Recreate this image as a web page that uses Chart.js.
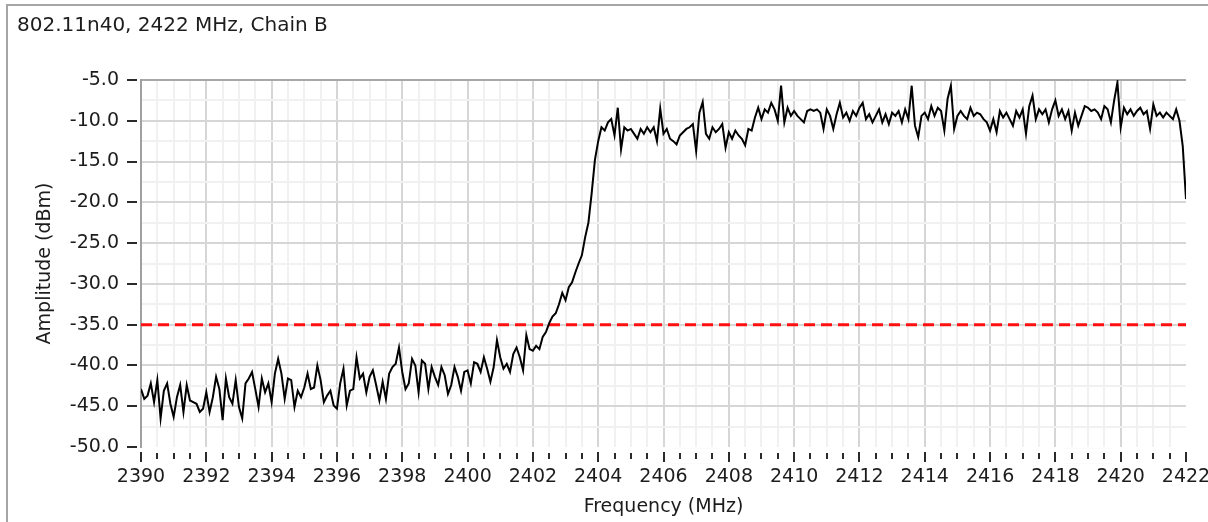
<!DOCTYPE html>
<html>
<head>
<meta charset="utf-8">
<title>802.11n40 spectrum</title>
<script src="https://cdn.jsdelivr.net/npm/chart.js@4.4.1/dist/chart.umd.min.js"></script>
<style>
    html, body { margin: 0; padding: 0; background: #fff; overflow: hidden; }
    #wrap { position: relative; width: 1208px; height: 522px; }
    #wrap canvas { position: absolute; left: 0; top: 0; }
    #frame { position: absolute; left: 6px; top: 4px; width: 1230px; height: 560px; border: 2px solid #a5a5a5; box-sizing: border-box; pointer-events: none; }
</style>
</head>
<body>
<div id="wrap">
    <canvas id="spectrumChart" width="1208" height="522"></canvas>
    <div id="frame"></div>
</div>
<script>
// Chart text
const chartTitle = '802.11n40, 2422 MHz, Chain B';
const xTitle = 'Frequency (MHz)';
const yTitle = 'Amplitude (dBm)';

// Tick labels
const freqTicks = [2390, 2392, 2394, 2396, 2398, 2400, 2402, 2404, 2406, 2408, 2410, 2412, 2414, 2416, 2418, 2420, 2422];
const ampTicks = [-5, -10, -15, -20, -25, -30, -35, -40, -45, -50];

// Sweep starts at 2390 MHz, one sample every 0.1 MHz
const startFreq = 2390;
const stepMHz = 0.1;

// Amplitude (dBm), in pieces
// 2390.0 - 2395.7
const floorLow = [
    -42.9, -44.1, -43.7, -42.2, -44.5, -41.8, -46.5, -43.1, -42.2, -44.7,
    -46.3, -43.9, -42.4, -45.7, -42.4, -44.3, -44.5, -44.7, -45.7, -45.3,
    -43.3, -45.7, -43.9, -41.4, -42.9, -46.7, -41.6, -43.9, -44.7, -41.8,
    -45.1, -46.5, -42.2, -41.6, -40.8, -42.9, -45.1, -41.6, -43.3, -42.2,
    -44.5, -41.0, -39.2, -41.0, -44.1, -41.6, -41.8, -45.1, -43.1, -43.9,
    -42.7, -41.0, -42.9, -42.7, -40.0, -41.8, -44.5, -43.7
];
// 2395.8 - 2402.5
const floorHigh = [
    -43.1, -44.9,
    -45.3, -42.2, -40.4, -44.9, -43.1, -42.9, -39.0, -41.6, -41.0, -43.3,
    -41.4, -40.6, -42.4, -44.3, -42.0, -44.1, -41.0, -40.2, -39.8, -37.8,
    -40.8, -42.9, -42.2, -39.2, -40.0, -43.3, -39.4, -39.8, -42.9, -40.2,
    -41.4, -42.4, -40.2, -41.2, -43.5, -42.4, -40.2, -41.4, -43.1, -40.8,
    -40.6, -42.2, -39.6, -39.8, -40.8, -39.0, -40.4, -42.0, -40.2, -36.9,
    -39.0, -40.4, -39.8, -40.8, -38.6, -37.8, -39.0, -40.6, -36.3, -38.0,
    -38.2, -37.6, -38.0, -36.5, -35.9, -34.8
];
// 2402.6 - 2404.0 (channel edge)
const bandEdge = [
    -34.0, -33.6, -32.5, -31.1, -32.0, -30.4, -29.8, -28.6, -27.5, -26.5,
    -24.3, -22.5, -18.9, -14.8, -12.5
];
// 2404.1 - 2410.0
const bandLow = [
    -10.8, -11.2, -10.2, -9.8, -11.8, -8.4, -13.5, -10.8, -11.2,
    -11.0, -11.6, -12.2, -11.0, -11.6, -10.8, -11.4, -10.8, -12.5, -8.5,
    -11.6, -11.0, -12.2, -12.5, -12.9, -11.8, -11.4, -11.0, -10.8, -10.4,
    -13.7, -9.0, -7.7, -11.6, -12.2, -10.8, -11.4, -11.0, -10.4, -13.3,
    -11.4, -12.2, -11.2, -11.8, -12.2, -13.0, -11.0, -11.2, -9.6, -8.4,
    -9.8, -8.6, -9.0, -7.8, -8.6, -10.0, -5.7, -10.2, -8.4, -9.4,
    -8.8
];
// 2410.1 - 2416.2
const bandMid = [
    -9.4, -9.8, -10.2, -8.8, -8.6, -8.8, -8.6, -9.0, -11.0,
    -8.6, -9.4, -11.0, -9.2, -7.8, -9.6, -9.0, -10.0, -8.8, -9.4,
    -8.4, -7.8, -9.8, -9.2, -10.2, -9.4, -8.6, -10.2, -9.2, -10.4,
    -9.0, -9.4, -8.8, -10.2, -8.6, -9.8, -5.7, -10.6, -12.0, -9.4,
    -9.0, -9.8, -8.2, -9.4, -8.4, -8.8, -11.2, -7.3, -5.7, -11.0,
    -9.4, -8.8, -9.4, -9.8, -8.4, -9.4, -9.0, -9.2, -9.8, -10.2,
    -11.2, -9.8, -11.4
];
// 2416.3 - 2422.0
const bandHigh = [
    -8.8, -9.6, -9.0, -9.8, -10.6, -8.8, -9.6,
    -8.6, -11.6, -8.2, -6.9, -9.8, -8.6, -9.2, -8.6, -10.2, -8.6,
    -7.5, -9.4, -8.6, -9.8, -8.8, -11.2, -9.0, -10.6, -9.4, -8.2,
    -8.4, -8.8, -8.6, -9.0, -9.8, -8.2, -8.6, -10.2, -7.5, -5.3,
    -10.8, -8.4, -9.2, -8.6, -9.4, -8.8, -8.4, -9.2, -8.8, -11.0,
    -8.0, -9.4, -9.0, -9.6, -9.0, -9.4, -9.8, -8.6, -10.0, -13.1,
    -19.6
];

// Limit line
const limitFreqs = [2390, 2422];
const limitLevels = [-35, -35];

const amplitude = [].concat(floorLow, floorHigh, bandEdge, bandLow, bandMid, bandHigh);
const spectrum = amplitude.map((a, i) => ({ x: +(startFreq + i * stepMHz).toFixed(1), y: a }));
const limitLine = limitFreqs.map((f, i) => ({ x: f, y: limitLevels[i] }));

const isMajorFreq = v => freqTicks.some(t => Math.abs(t - v) < 1e-6);
const isMajorAmp = v => ampTicks.some(t => Math.abs(t - v) < 1e-6);

const textColor = '#1c1c1c';
Chart.defaults.font.family = '"DejaVu Sans", sans-serif';
Chart.defaults.font.size = 19;
Chart.defaults.color = textColor;

// small dark tick marks standing off the axes
const tickMarks = {
    id: 'tickMarks',
    afterDraw(chart) {
        const ctx = chart.ctx;
        const area = chart.chartArea;
        const xs = chart.scales.x;
        const ys = chart.scales.y;
        ctx.save();
        ctx.strokeStyle = '#2a2a2a';
        xs.ticks.forEach(t => {
            const px = Math.round(xs.getPixelForValue(t.value));
            const major = isMajorFreq(t.value);
            ctx.lineWidth = 2;
            ctx.beginPath();
            ctx.moveTo(px, area.bottom + (major ? 5 : 6));
            ctx.lineTo(px, area.bottom + (major ? 15 : 12));
            ctx.stroke();
        });
        ys.ticks.forEach(t => {
            if (!isMajorAmp(t.value)) return;
            const py = Math.round(ys.getPixelForValue(t.value));
            ctx.lineWidth = 2;
            ctx.beginPath();
            ctx.moveTo(area.left - 14, py);
            ctx.lineTo(area.left - 4, py);
            ctx.stroke();
        });
        ctx.restore();
    }
};

const ctx = document.getElementById('spectrumChart').getContext('2d');

new Chart(ctx, {
    type: 'line',
    data: {
        datasets: [
            {
                label: 'Spectrum',
                data: spectrum,
                borderColor: '#000000',
                borderWidth: 2,
                pointRadius: 0,
                tension: 0,
                fill: false
            },
            {
                label: 'Limit',
                data: limitLine,
                borderColor: '#ff1010',
                borderWidth: 3,
                borderDash: [11, 6],
                borderCapStyle: 'butt',
                pointRadius: 0,
                fill: false
            }
        ]
    },
    options: {
        responsive: false,
        animation: false,
        devicePixelRatio: 1,
        layout: { padding: { left: 17, right: 22, top: 0, bottom: 0 } },
        plugins: {
            legend: { display: false },
            tooltip: { enabled: false },
            title: {
                display: true,
                text: chartTitle,
                align: 'start',
                color: textColor,
                font: { size: 20, weight: 'normal' },
                padding: { top: 14, bottom: 42 }
            }
        },
        scales: {
            x: {
                type: 'linear',
                min: 2390,
                max: 2422,
                ticks: {
                    stepSize: 0.5,
                    autoSkip: false,
                    maxRotation: 0,
                    padding: 19,
                    color: textColor,
                    callback: v => isMajorFreq(v) ? String(Math.round(v)) : ''
                },
                grid: {
                    drawTicks: false,
                    lineWidth: 2,
                    color: c => {
                        const v = c.tick.value;
                        if (v <= 2390 || v >= 2422) return 'rgba(0,0,0,0)';
                        return isMajorFreq(v) ? '#d6d6d6' : '#f1f1f1';
                    }
                },
                border: { display: false },
                title: {
                    display: true,
                    text: xTitle,
                    color: textColor,
                    padding: { top: 0, bottom: 4 }
                },
                afterFit: s => {
                    s.height = 75;
                    s.paddingLeft = 0;
                    s.paddingRight = 0;
                }
            },
            y: {
                min: -50,
                max: -5,
                ticks: {
                    stepSize: 2.5,
                    autoSkip: false,
                    padding: 22,
                    color: textColor,
                    callback: v => isMajorAmp(v) ? v.toFixed(1) : ''
                },
                grid: {
                    drawTicks: false,
                    lineWidth: 2,
                    color: c => {
                        const v = c.tick.value;
                        if (v <= -50) return 'rgba(0,0,0,0)';
                        if (v >= -5) return '#a8a8a8';
                        return isMajorAmp(v) ? '#d6d6d6' : '#f1f1f1';
                    }
                },
                border: { display: true, color: '#a0a0a0', width: 2 },
                title: {
                    display: true,
                    text: yTitle,
                    color: textColor,
                    padding: { top: 17, bottom: 0 }
                },
                afterFit: s => {
                    s.width = 124;
                    s.paddingTop = 0;
                    s.paddingBottom = 0;
                }
            }
        }
    },
    plugins: [tickMarks]
});
</script>
</body>
</html>
